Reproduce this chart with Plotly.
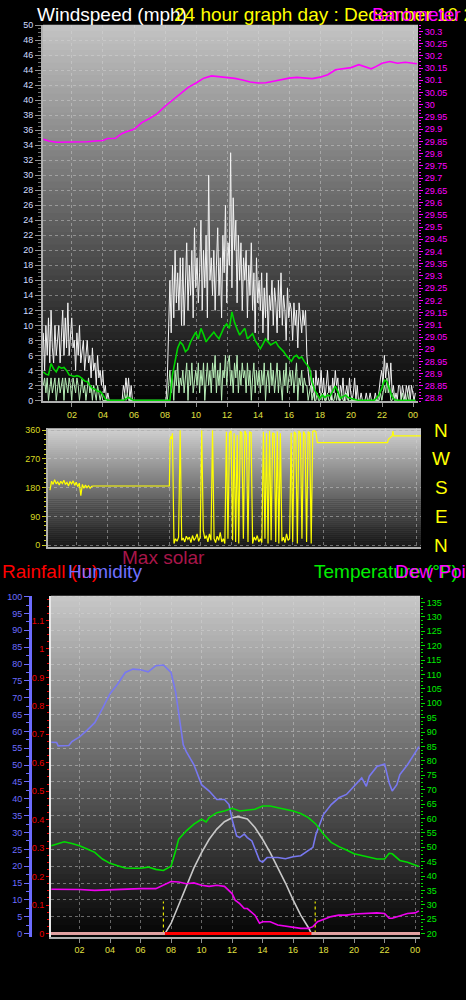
import plotly.graph_objects as go

# ── time axis ─────────────────────────────────────────────────────────────────
HOUR_TICKS = [2, 4, 6, 8, 10, 12, 14, 16, 18, 20, 22, 24]
HOUR_LABELS = ["02", "04", "06", "08", "10", "12", "14", "16", "18", "20", "22", "00"]
X_RANGE = [0.13, 24.32]

# ── wind speed, 5-minute samples (mph) ────────────────────────────────────────
WIND_HOURS = [0.15 + i / 12 for i in range(289)]
GUST = [
    9, 4, 10, 6, 11, 5, 12, 7, 5, 10, 6, 8,
    10, 5, 8, 12, 6, 11, 7, 13, 6, 9, 11, 7,
    8, 4, 9, 6, 10, 5, 7, 8, 4, 6, 8, 5,
    6, 3, 7, 4, 5, 2, 6, 3, 4, 2, 4, 1,
    2, 0, 1, 0, 0, 0, 0, 0, 0, 0, 0, 0,
    0, 0, 2, 1, 3, 1, 3, 0, 2, 0, 0, 0,
    0, 0, 0, 0, 0, 0, 0, 0, 0, 0, 0, 0,
    0, 0, 0, 0, 0, 0, 0, 0, 0, 0, 0, 0,
    3, 12, 16, 9, 18, 11, 20, 13, 17, 12, 19, 10,
    19, 10, 16, 21, 12, 18, 14, 20, 11, 23, 15, 19,
    13, 17, 24, 12, 20, 15, 22, 11, 30, 16, 19, 14,
    20, 12, 18, 23, 14, 19, 11, 22, 17, 26, 13, 21,
    18, 33, 15, 27, 20, 24, 13, 22, 16, 21, 12, 19,
    16, 20, 11, 18, 14, 21, 12, 17, 9, 19, 13, 16,
    12, 17, 9, 15, 11, 17, 8, 14, 12, 16, 10, 15,
    13, 9, 16, 11, 17, 10, 14, 12, 8, 15, 11, 13,
    12, 8, 13, 10, 12, 7, 13, 11, 9, 12, 10, 12,
    6, 4, 2, 4, 1, 3, 0, 4, 2, 3, 1, 4,
    1, 3, 0, 2, 4, 1, 2, 0, 3, 1, 4, 2,
    3, 0, 2, 1, 3, 0, 1, 2, 0, 3, 1, 0,
    1, 3, 0, 2, 0, 0, 1, 0, 0, 0, 1, 0,
    0, 1, 0, 0, 0, 1, 0, 0, 2, 3, 4, 2,
    6, 3, 5, 4, 2, 5, 1, 2, 0, 1, 0, 2,
    2, 0, 2, 1, 0, 2, 1, 2, 0, 2, 1, 0,
    1,
]
SPEED = [
    2, 3, 1, 3, 0, 2, 3, 1, 2, 3, 0, 2,
    3, 1, 2, 3, 0, 3, 2, 1, 3, 2, 0, 3,
    2, 1, 3, 2, 0, 2, 3, 1, 2, 0, 2, 3,
    1, 2, 0, 2, 1, 0, 2, 1, 0, 1, 0, 0,
    0, 0, 0, 0, 0, 0, 0, 0, 0, 0, 0, 0,
    0, 0, 0, 1, 0, 1, 0, 0, 0, 0, 0, 0,
    0, 0, 0, 0, 0, 0, 0, 0, 0, 0, 0, 0,
    0, 0, 0, 0, 0, 0, 0, 0, 0, 0, 0, 0,
    0, 2, 4, 1, 3, 0, 4, 2, 5, 1, 3, 2,
    4, 1, 3, 5, 0, 4, 2, 5, 1, 3, 4, 2,
    5, 1, 4, 2, 5, 0, 3, 5, 2, 4, 1, 5,
    3, 6, 1, 4, 2, 5, 0, 4, 3, 6, 2, 5,
    6, 2, 4, 1, 5, 3, 6, 1, 4, 2, 5, 3,
    4, 1, 5, 2, 4, 0, 3, 5, 1, 4, 2, 4,
    1, 4, 2, 5, 0, 3, 4, 1, 5, 2, 4, 1,
    3, 5, 1, 4, 2, 0, 4, 2, 5, 1, 3, 4,
    2, 4, 1, 3, 5, 0, 3, 2, 4, 1, 3, 2,
    2, 0, 1, 2, 0, 1, 0, 0, 1, 0, 0, 1,
    0, 1, 0, 0, 1, 0, 0, 1, 0, 0, 1, 0,
    1, 0, 0, 1, 0, 0, 0, 1, 0, 0, 0, 0,
    0, 0, 0, 0, 0, 0, 0, 0, 0, 0, 0, 0,
    0, 0, 0, 0, 0, 0, 0, 0, 0, 1, 0, 1,
    2, 1, 3, 1, 2, 0, 0, 1, 0, 0, 0, 0,
    0, 0, 1, 0, 0, 0, 1, 0, 0, 0, 0, 0,
    0,
]

# ── average wind, 10-minute samples (mph) ─────────────────────────────────────
AVG_HOURS = [0.15 + i / 6 for i in range(145)]
AVERAGE = [
    3.8, 3.5, 3.4, 4.9, 4.2, 3.8,
    4.5, 4.3, 4.4, 4.0, 3.4, 3.3,
    3.2, 3.3, 3.2, 2.9, 2.6, 2.5,
    2.0, 1.6, 1.5, 1.2, 1.2, 0.8,
    0.2, 0, 0, 0, 0, 0,
    0, 0, 0.2, 0.4, 0.2, 0,
    0, 0, 0, 0, 0, 0,
    0, 0, 0, 0, 0, 0,
    0, 0, 3.4, 5.5, 7.0, 7.8,
    7.4, 6.5, 6.8, 7.8, 8.5, 9.1,
    8.2, 9.6, 8.8, 7.8, 8.3, 8.7,
    9.1, 8.6, 8.2, 9.0, 9.8, 10.2,
    9.6, 11.8, 10.4, 9.5, 8.7, 9.2,
    9.6, 8.2, 8.5, 8.9, 8.0, 7.4,
    6.9, 7.5, 8.2, 7.8, 7.4, 7.6,
    7.8, 7.2, 6.9, 6.5, 6.0, 5.6,
    5.2, 5.8, 6.0, 5.6, 5.8, 5.2,
    4.8, 4.3, 2.5, 1.4, 0.8, 0.3,
    0.7, 0.4, 0.7, 0.6, 1.2, 1.9,
    1.2, 0.3, 0.5, 0.7, 0.4, 0.3,
    0.1, 0, 0, 0, 0, 0,
    0, 0, 0, 0.3, 0.8, 1.6,
    2.7, 2.5, 1.5, 0.5, 0.1, 0,
    0, 0, 0, 0, 0, 0,
    0,
]

# ── barometer (inHg) ──────────────────────────────────────────────────────────
PRESS_HOURS = [0.15, 0.5, 1, 2, 2.5, 3, 3.5, 4, 4.3, 4.8, 5.2, 5.5, 6, 6.5, 7, 7.5,
               8, 8.5, 9, 9.5, 10, 10.5, 11, 11.5, 12, 12.5, 13, 13.5, 14, 14.5,
               15, 15.5, 16, 16.5, 17, 17.5, 18, 18.5, 19, 19.5, 20, 20.5, 21,
               21.3, 21.6, 22, 22.5, 23, 23.5, 24, 24.25]
PRESSURE = [29.859, 29.852, 29.847, 29.848, 29.847, 29.849, 29.852, 29.854, 29.862,
            29.863, 29.882, 29.890, 29.900, 29.927, 29.944, 29.964, 29.994, 30.021,
            30.046, 30.071, 30.089, 30.109, 30.118, 30.115, 30.109, 30.108, 30.101,
            30.093, 30.089, 30.090, 30.096, 30.104, 30.109, 30.112, 30.111, 30.107,
            30.113, 30.123, 30.143, 30.147, 30.152, 30.164, 30.155, 30.147, 30.156,
            30.170, 30.177, 30.170, 30.174, 30.172, 30.168]

# ── wind direction (degrees) ──────────────────────────────────────────────────
DIR_EARLY_HOURS = [0.26 + 0.1 * i for i in range(29)]
DIR_EARLY = [172, 200, 190, 205, 192, 198, 188, 200, 193, 203,
             190, 196, 185, 199, 192, 201, 187, 197, 183, 194,
             155, 190, 178, 188, 180, 186, 178, 184, 185]
DIR_SHIFT_HOURS = [8.0, 8.05, 8.1, 8.15]
DIR_SHIFT = [185, 331, 340, 333]
DIR_DAY_HOURS = [8.2 + 0.1 * i for i in range(95)]
DIR_DAY = [350, 5, 20, 12, 25, 360, 15, 22, 10, 28,
           18, 25, 8, 30, 15, 22, 35, 12, 25, 360,
           45, 20, 30, 10, 35, 15, 360, 20, 8, 28,
           15, 40, 10, 20, 5, 355, 20, 350, 358, 15,
           350, 10, 345, 5, 356, 350, 20, 358, 345, 10,
           355, 352, 5, 25, 15, 30, 10, 20, 8, 355,
           20, 350, 5, 358, 15, 352, 348, 10, 356, 5,
           350, 12, 25, 8, 35, 15, 20, 352, 10, 355,
           348, 5, 358, 350, 20, 356, 345, 10, 355, 350,
           5, 356, 358, 355, 321]
DIR_LATE_HOURS = [22.15, 22.2, 22.45, 22.5, 22.55, 24.3]
DIR_LATE = [321, 331, 342, 357, 342, 342]
COMPASS = ["N", "W", "S", "E", "N"]
COMPASS_DEG = [360, 270, 180, 90, 0]

# ── humidity (%) ──────────────────────────────────────────────────────────────
HUM_HOURS = [0.15, 0.5, 0.6, 1.0, 1.3, 1.5, 2.0, 2.5, 3.0, 3.5, 4.0, 4.5, 5.0, 5.5,
             6.0, 6.5, 7.0, 7.5, 7.8, 8.0, 8.3, 8.5, 8.8, 9.0, 9.5, 10.0, 10.5,
             11.0, 11.5, 11.8, 12.0, 12.3, 12.5, 12.8, 13.0, 13.3, 13.5, 13.8,
             14.0, 14.3, 14.5, 15.0, 15.5, 16.0, 16.5, 17.0, 17.3, 17.5, 17.8,
             18.0, 18.5, 19.0, 19.5, 20.0, 20.5, 20.8, 21.0, 21.5, 22.0, 22.3,
             22.5, 22.8, 23.0, 23.5, 24.0, 24.25]
HUMIDITY = [56.8, 56.7, 55.7, 55.7, 55.8, 57, 58.4, 60.4, 62.6, 66.8, 71.2, 74.1,
            77.5, 78.5, 78.3, 77.7, 79.5, 79.7, 78.5, 77.5, 71.7, 64.8, 56, 54,
            50.1, 44.2, 42.3, 39.8, 39.8, 38.3, 33.9, 29, 28.5, 29.5, 28.5, 27.5,
            25.1, 21.7, 21.2, 22.6, 22.6, 22.6, 22.2, 22.8, 23.1, 24.6, 25.6, 29.5,
            33.4, 35.4, 38.3, 40.3, 41.3, 43.7, 46.2, 43.7, 46.7, 49.6, 50.3, 44.7,
            42.3, 44.2, 47.2, 50.1, 53.5, 55.5]

# ── temperature and dew point (°F) ────────────────────────────────────────────
TEMP_HOURS = [0.15, 0.5, 1, 1.5, 2, 2.5, 3, 3.5, 4, 4.5, 5, 5.5, 6, 6.5, 7, 7.5, 8,
              8.3, 8.5, 9, 9.5, 10, 10.3, 10.5, 11, 11.5, 12, 12.5, 13, 13.5, 14,
              14.5, 15, 15.5, 16, 16.5, 17, 17.5, 18, 18.5, 19, 19.5, 20, 20.5,
              21, 21.5, 22, 22.3, 22.5, 23, 23.5, 24, 24.25]
TEMPERATURE = [50.5, 51.1, 51.9, 51.3, 50.5, 49.4, 48.2, 45.9, 44.4, 43.6, 42.8,
               42.7, 42.7, 43.1, 42.3, 41.9, 43.4, 48.8, 52.8, 55.7, 58, 59.7,
               58.8, 60.3, 62, 62.6, 63.5, 62.6, 62.9, 63.2, 64.3, 64.3, 63.7,
               63.2, 62.6, 61.7, 60.3, 58, 54.5, 51.7, 50.2, 49, 47.7, 47.1, 46.5,
               45.9, 45.9, 47.9, 47.7, 45.4, 44.8, 43.9, 43.3]
DEW_HOURS = [0.15, 1, 2, 3, 4, 5, 6, 7, 7.5, 8, 8.5, 9, 9.5, 10, 10.5, 11, 11.5, 12,
             12.2, 12.5, 12.8, 13, 13.5, 13.8, 14, 14.5, 15, 15.5, 16, 16.5, 17,
             17.3, 17.6, 18, 18.5, 19, 19.5, 20, 20.5, 21, 21.5, 22, 22.3, 22.5,
             23, 23.5, 24, 24.25]
DEW_POINT = [35.4, 35.4, 35.3, 35, 35.2, 35.5, 35.6, 35.6, 36.8, 38.1, 37.9, 37.3,
             37.6, 36.8, 36.4, 36.8, 36.4, 33.9, 31.6, 30.4, 28.7, 28.7, 26.4, 23.6,
             24.1, 24.1, 23, 22.6, 22.2, 21.8, 21.8, 22.4, 24.1, 24.9, 25.9, 26.4,
             26.4, 26.8, 27, 27.2, 27.2, 27, 25.3, 25.3, 26.1, 27, 27.2, 27.9]

# ── max solar curve (drawn against the humidity scale) ────────────────────────
SOLAR_HOURS = [7.6, 8, 8.5, 9, 9.5, 10, 10.5, 11, 11.5, 12, 12.4, 13, 13.5, 14,
               14.5, 15, 15.5, 16, 16.5, 17, 17.2]
MAX_SOLAR = [0, 3, 8.5, 14, 19.5, 24, 28, 31, 33.2, 34.4, 34.7, 34, 31.5, 28, 24,
             19.5, 15, 10, 5.5, 1.8, 0]

# ── rainfall (in), measured solar and sun times ───────────────────────────────
RAIN_HOURS = [0.13, 24.32]
RAINFALL = [0, 0]
SOLAR_ON_HOURS = [7.6, 17.2]
SOLAR_ON = [0, 0]
SUNRISE, SUNSET = 7.5, 17.45
SUN_MARK = 9.5

W, H = 466, 1000
FONT = "Arial"


def px(x):
    return x / W


def py(y):
    return 1 - y / H


def gradient(xref, yref, top, bottom, n=60):
    out = []
    for i in range(n):
        g = round(top + (bottom - top) * (i + 0.5) / n)
        out.append(dict(
            type="rect", xref=xref, yref=yref, x0=0, x1=1,
            y0=max(0, 1 - (i + 1) / n - 0.003), y1=1 - i / n,
            fillcolor=f"rgb({g},{g},{g})", line=dict(width=0), layer="below",
        ))
    return out


def line(x, y, xa, ya, color, width):
    return go.Scatter(x=x, y=y, xaxis=xa, yaxis=ya, mode="lines",
                      line=dict(color=color, width=width), hoverinfo="skip")


fig = go.Figure()

# ── top panel: wind speed + barometer ─────────────────────────────────────────
fig.add_trace(line(WIND_HOURS, GUST, "x", "y", "#f2f2f2", 1))
fig.add_trace(line(WIND_HOURS, SPEED, "x", "y", "#b8eeb8", 1))
fig.add_trace(line(AVG_HOURS, AVERAGE, "x", "y", "#00d400", 1.6))
fig.add_trace(line(PRESS_HOURS, PRESSURE, "x", "y2", "#ff00ff", 1.6))

# ── middle panel: wind direction ──────────────────────────────────────────────
fig.add_trace(line(DIR_EARLY_HOURS + DIR_SHIFT_HOURS + DIR_DAY_HOURS + DIR_LATE_HOURS,
                   DIR_EARLY + DIR_SHIFT + DIR_DAY + DIR_LATE,
                   "x2", "y3", "#ffff00", 1.2))

# ── bottom panel ──────────────────────────────────────────────────────────────
fig.add_trace(line(SOLAR_HOURS, MAX_SOLAR, "x3", "y4", "#c8c8c8", 1.6))
fig.add_trace(line(HUM_HOURS, HUMIDITY, "x3", "y4", "#7878f0", 1.6))
fig.add_trace(line(TEMP_HOURS, TEMPERATURE, "x3", "y6", "#00dd00", 1.6))
fig.add_trace(line(DEW_HOURS, DEW_POINT, "x3", "y6", "#ee00ee", 1.6))
fig.add_trace(line(RAIN_HOURS, RAINFALL, "x3", "y5", "#e0a0a0", 3))
fig.add_trace(line(SOLAR_ON_HOURS, SOLAR_ON, "x3", "y5", "#ff0000", 3))
fig.add_trace(go.Scatter(
    x=[SUNRISE, SUNRISE, None, SUNSET, SUNSET], y=[0, SUN_MARK, None, 0, SUN_MARK],
    xaxis="x3", yaxis="y4", mode="lines", hoverinfo="skip",
    line=dict(color="#e8e800", width=1.2, dash="dot"),
))

grid = dict(showgrid=True, gridcolor="rgba(215,215,215,0.45)", griddash="dot", gridwidth=1)
xtick = dict(range=X_RANGE, tickvals=HOUR_TICKS, ticktext=HOUR_LABELS, ticks="outside",
             ticklen=4, tickcolor="#909090", showline=True, linecolor="#b0b0b0",
             linewidth=2, zeroline=False, tickfont=dict(family=FONT, size=9, color="#e0e040"),
             **grid)


def yfont(c):
    return dict(family=FONT, size=9, color=c)


fig.update_layout(
    width=W, height=H, margin=dict(l=0, r=0, t=0, b=0),
    paper_bgcolor="black", plot_bgcolor="black", showlegend=False,
    xaxis=dict(domain=[px(43), px(418)], anchor="y", **xtick),
    yaxis=dict(domain=[py(400), py(20)], range=[-0.13, 50.04], dtick=2, tick0=0,
               ticks="outside", ticklen=6, tickcolor="#909090", tickfont=yfont("#d0dcff"),
               minor=dict(dtick=0.5, ticklen=3, tickcolor="#707070", ticks="outside"),
               showline=True, linecolor="#b0b0b0", linewidth=2, zeroline=False, **grid),
    yaxis2=dict(overlaying="y", side="right", anchor="x", range=[28.787, 30.327],
                tick0=28.8, dtick=0.05, tickformat=".4~g", ticks="outside", ticklen=4,
                tickcolor="#ff00ff", tickfont=yfont("#ff00ff"), showgrid=False,
                minor=dict(dtick=0.0125, ticklen=2, tickcolor="#ff00ff", ticks="outside"),
                zeroline=False),
    xaxis2=dict(domain=[px(48), px(421)], anchor="y3", **{**xtick, "showticklabels": False,
                                                          "ticks": ""}),
    yaxis3=dict(domain=[py(547), py(427)], anchor="x2", range=[-6.2, 366.2],
                tickvals=[0, 90, 180, 270, 360], ticks="outside", ticklen=4,
                tickcolor="#c8c820", tickfont=yfont("#d8d820"),
                minor=dict(dtick=15, ticklen=2, tickcolor="#c8c820", ticks="outside"),
                showline=True, linecolor="#b0b0b0", linewidth=2, zeroline=False, **grid),
    xaxis3=dict(domain=[px(51), px(420)], anchor="y5", **xtick),
    yaxis4=dict(domain=[py(940), py(596)], anchor="free", position=px(30), side="left",
                range=[-0.88, 100.3], dtick=5, ticks="outside", ticklen=5,
                tickcolor="#6c6cff", tickfont=yfont("#6c6cff"),
                minor=dict(dtick=2.5, ticklen=3, tickcolor="#6c6cff", ticks="outside"),
                showline=True, linecolor="#6c6cff", linewidth=3, zeroline=False, **grid),
    yaxis5=dict(overlaying="y4", side="left", anchor="x3", range=[-0.0104, 1.187],
                dtick=0.1, tickformat=".2~g", ticks="outside", ticklen=3,
                tickcolor="#ee0000", tickfont=yfont("#ee0000"), showgrid=False,
                minor=dict(dtick=0.025, ticklen=2, tickcolor="#ee0000", ticks="outside"),
                showline=True, linecolor="#e8e8e8", linewidth=2, zeroline=False),
    yaxis6=dict(overlaying="y4", side="right", anchor="x3", range=[18.97, 137.4],
                dtick=5, ticks="outside", ticklen=4, tickcolor="#00dd00",
                tickfont=yfont("#00ee00"), showgrid=False,
                minor=dict(dtick=1.25, ticklen=2, tickcolor="#00dd00", ticks="outside"),
                zeroline=False),
    shapes=gradient("x domain", "y domain", 196, 4)
    + gradient("x2 domain", "y3 domain", 210, 24)
    + gradient("x3 domain", "y4 domain", 200, 4),
)

# ── titles ────────────────────────────────────────────────────────────────────
TITLES = [
    ("Windspeed (mph)", 35, 10, "#ffffff"),
    ("24 hour graph day : December 10 2010", 172, 10, "#ffff00"),
    ("Barometer (in)", 370, 10, "#ff00ff"),
    ("Max solar", 120, 558, "#a8164a"),
    ("Rainfall (in)", 0, 572, "#ff0000"),
    ("Humidity", 66, 572, "#7070ff"),
    ("Temperature (°F)", 312, 572, "#00ee00"),
    ("Dew Point (°F)", 393, 572, "#ff00ff"),
]
for text, x, y, color in TITLES:
    fig.add_annotation(text=text, x=px(x), y=py(y), xref="paper", yref="paper",
                       xanchor="left", yanchor="middle", showarrow=False,
                       font=dict(family=FONT, size=19, color=color))

for label, deg in zip(COMPASS, COMPASS_DEG):
    fig.add_annotation(text=label, x=px(441), y=deg, xref="paper", yref="y3",
                       xanchor="center", yanchor="middle", showarrow=False,
                       font=dict(family=FONT, size=19, color="#ffff00"))

fig.write_html(
    "out.html",
    config={"displayModeBar": False, "staticPlot": True},
    post_script="document.body.style.margin='0';document.body.style.background='black';"
                "document.body.style.overflow='hidden';",
)
